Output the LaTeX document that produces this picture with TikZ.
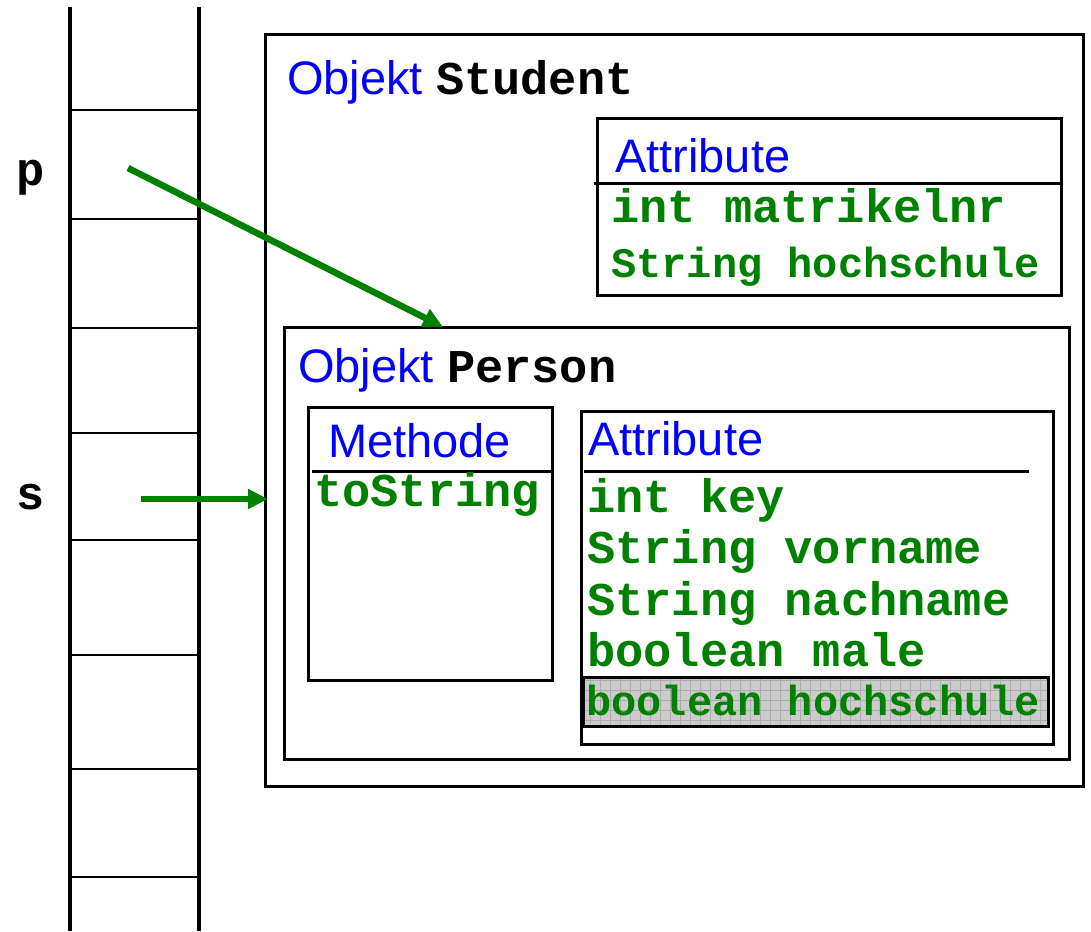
\documentclass[tikz,border=0pt]{standalone}
\usepackage{fontspec}
\setmainfont{Liberation Sans}
\setmonofont{Liberation Mono}
\usetikzlibrary{arrows.meta}
\definecolor{codegreen}{RGB}{0,128,0}
\tikzset{
  box/.style={draw, line width=3pt, anchor=north west, inner sep=0pt, outer sep=0pt},
  title/.style={anchor=base west, inner sep=0pt, text=blue, font=\fontsize{47}{50}\selectfont},
  code/.style={anchor=base west, inner sep=0pt, text=codegreen, font=\fontsize{47}{50}\selectfont\ttfamily\bfseries},
  smallcode/.style={code, font=\fontsize{42}{45}\selectfont\ttfamily\bfseries},
  var/.style={anchor=base, inner sep=0pt, font=\fontsize{47}{50}\selectfont\ttfamily\bfseries},
  ref/.style={draw=codegreen, line width=6.5pt, -{Triangle[length=20pt,width=19pt]}},
}
\newcommand{\objname}[1]{{\color{black}\ttfamily\bfseries #1}}

\begin{document}
\begin{tikzpicture}[x=1pt, y=-1pt]
   \useasboundingbox (0,0) rectangle (1091,931);
   % stack
   \draw[line width=3.5pt] (70,7) -- (70,931) (199,7) -- (199,931);
   \foreach \y in {110,219,328,433,540,655,769,877}
      \draw[line width=2.5pt] (70,\y) -- (199,\y);
   \node[var] (p) at (31,185) {p};
   \node[var] (s) at (31,509) {s};
   % objects
   \node[box, minimum width=818pt, minimum height=751pt] (student) at (265,35) {};
   \node[box, minimum width=464pt, minimum height=176pt] (studattr) at (597,119) {};
   \node[box, minimum width=785pt, minimum height=432pt] (person) at (284,327) {};
   \node[box, minimum width=244pt, minimum height=273pt] (methode) at (308,407) {};
   \node[box, minimum width=472pt, minimum height=333pt] (persattr) at (581,411) {};
   \draw[line width=3pt] (594,183) -- (1061,183);
   \draw[line width=3pt] (312,471) -- (552,471);
   \draw[line width=3pt] (584,471) -- (1029,471);
   % highlighted attribute
   \fill[gray!40] (583,677) rectangle (1048,726);
   \draw[gray!65, line width=0.6pt, step=10pt] (583,677) grid (1048,726);
   \draw[line width=3pt] (583,677) rectangle (1048,726);
   % texts
   \node[title] (studtitle) at (287,95) {Objekt \objname{Student}};
   \node[title] (studhead) at (615,172) {Attribute};
   \node[code] (matnr) at (611,222) {int matrikelnr};
   \node[smallcode] (studhs) at (611,277) {String hochschule};
   \node[title] (perstitle) at (298,382) {Objekt \objname{Person}};
   \node[title] (methhead) at (328,457) {Methode};
   \node[code] (tostr) at (314,506) {toString};
   \node[title] (pershead) at (588,455) {Attribute};
   \node[code] (key) at (587,512) {int key};
   \node[code] (vorname) at (587,563) {String vorname};
   \node[code] (nachname) at (587,615) {String nachname};
   \node[code] (male) at (587,666) {boolean male};
   \node[smallcode] (pershs) at (586,715) {boolean hochschule};
   % references
   \coordinate (pfrom) at (128,168);
   \coordinate (pto) at (443,327);
   \coordinate (sfrom) at (141,499);
   \coordinate (sto) at (268,499);
   \draw[ref] (pfrom) -- (pto);
   \draw[ref] (sfrom) -- (sto);
\end{tikzpicture}
\end{document}
